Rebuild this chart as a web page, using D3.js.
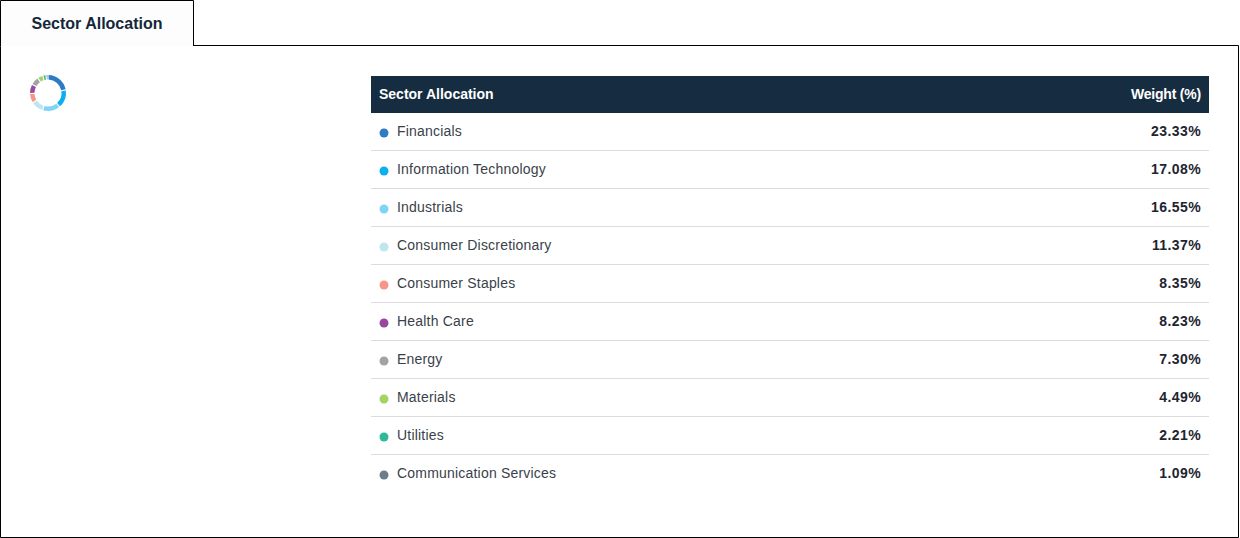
<!DOCTYPE html>
<html>
<head>
<meta charset="utf-8">
<script src="https://cdn.jsdelivr.net/npm/d3@7"></script>
<style>
  html, body { margin: 0; padding: 0; background: #fff; }
  svg { display: block; font-family: "Liberation Sans", Arial, sans-serif; }
</style>
</head>
<body>
<div id="chart"></div>
<script>
var sectors = ['Financials', 'Information Technology', 'Industrials', 'Consumer Discretionary',
    'Consumer Staples', 'Health Care', 'Energy', 'Materials', 'Utilities', 'Communication Services'];
var weights = [23.33, 17.08, 16.55, 11.37, 8.35, 8.23, 7.30, 4.49, 2.21, 1.09];
var colors = ['#2e7bc4', '#0cb0ef', '#80d4f6', '#bfe5f1', '#f8958b', '#9a479e',
    '#a3a3a3', '#a6d264', '#2dba97', '#6e7d8b'];

var chart_width = 1240;
var chart_height = 538;

var svg = d3.select('#chart')
    .append('svg')
    .attr('width', chart_width)
    .attr('height', chart_height)

// 外框和标签页
svg.append('path')
    .attr('d', 'M0.5,45.5 H1238.5 V537.5 H0.5 Z')
    .attr('fill', '#fff')
    .attr('stroke', '#000')
svg.append('rect')
    .attr('x', 0.5).attr('y', 0.5)
    .attr('width', 193).attr('height', 46)
    .attr('fill', '#fdfdfd')
svg.append('path')
    .attr('d', 'M0.5,46 V0.5 H193.5 V46')
    .attr('fill', 'none')
    .attr('stroke', '#000')
svg.append('text')
    .text('Sector Allocation')
    .attr('x', 97).attr('y', 29)
    .attr('text-anchor', 'middle')
    .attr('font-size', 16)
    .attr('font-weight', 'bold')
    .attr('fill', '#14273a')

// 甜甜圈图
var pie = d3.pie().sort(null).padAngle(0.05);
var arc = d3.arc().innerRadius(13.5).outerRadius(18);
svg.append('g')
    .attr('transform', 'translate(48,93)')
    .selectAll('path')
    .data(pie(weights))
    .enter()
    .append('path')
    .attr('d', arc)
    .attr('fill', function (d, i) {
        return colors[i];
    })

// 表格
var table_x = 371;
var table_w = 838;
var head_y = 76;
var head_h = 37;
var row_h = 38;

var y_scale = d3.scaleBand()
    .domain(d3.range(sectors.length))
    .range([head_y + head_h, head_y + head_h + row_h * sectors.length])

svg.append('rect')
    .attr('x', table_x).attr('y', head_y)
    .attr('width', table_w).attr('height', head_h)
    .attr('fill', '#162c40')
svg.append('text')
    .text('Sector Allocation')
    .attr('x', table_x + 8).attr('y', head_y + 23)
    .attr('font-size', 14).attr('font-weight', 'bold')
    .attr('fill', '#fff')
svg.append('text')
    .text('Weight (%)')
    .attr('x', table_x + table_w - 8).attr('y', head_y + 23)
    .attr('text-anchor', 'end')
    .attr('font-size', 14).attr('font-weight', 'bold')
    .attr('letter-spacing', -0.2)
    .attr('fill', '#fff')

var rows = svg.selectAll('.row')
    .data(sectors)
    .enter()
    .append('g')
    .attr('class', 'row')
    .attr('transform', function (d, i) {
        return 'translate(0,' + y_scale(i) + ')';
    })

rows.filter(function (d, i) { return i < sectors.length - 1; })
    .append('line')
    .attr('x1', table_x).attr('x2', table_x + table_w)
    .attr('y1', row_h - 0.5).attr('y2', row_h - 0.5)
    .attr('stroke', '#dcdcdc')

rows.append('circle')
    .attr('cx', 384).attr('cy', 20)
    .attr('r', 4.5)
    .attr('fill', function (d, i) {
        return colors[i];
    })

rows.append('text')
    .text(function (d) { return d; })
    .attr('x', 397).attr('y', 23)
    .attr('font-size', 14)
    .attr('letter-spacing', 0.2)
    .attr('fill', '#3a3f4a')

rows.append('text')
    .text(function (d, i) { return weights[i].toFixed(2) + '%'; })
    .attr('x', table_x + table_w - 8).attr('y', 23)
    .attr('text-anchor', 'end')
    .attr('font-size', 14).attr('font-weight', 'bold')
    .attr('letter-spacing', 0.4)
    .attr('fill', '#1e2530')
</script>
</body>
</html>
